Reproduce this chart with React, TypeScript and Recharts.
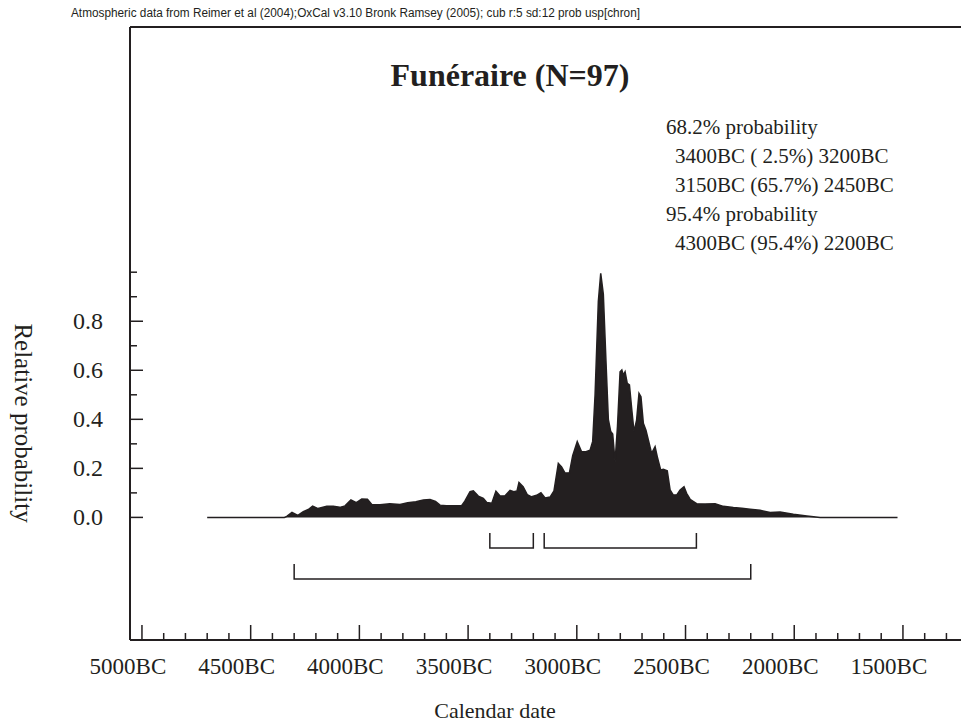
import React from 'react';
import { ComposedChart, Area, Line, XAxis, YAxis, ReferenceLine } from 'recharts';

// calendar years BC and relative probability
const years = [
  4700, 4345, 4334, 4310, 4283, 4258, 4235, 4215, 4190, 4150, 4120, 4090, 4066, 4039, 4014,
  3989, 3963, 3943, 3905, 3860, 3813, 3778, 3740, 3706, 3675, 3650, 3629, 3600, 3530, 3515,
  3491, 3476, 3453, 3430, 3414, 3391, 3372, 3353, 3330, 3307, 3290, 3275, 3266, 3247, 3228,
  3208, 3185, 3165, 3146, 3123, 3105, 3085, 3070, 3054, 3034, 3019, 2998, 2978, 2958, 2939,
  2927, 2916, 2901, 2890, 2878, 2866, 2855, 2844, 2835, 2824, 2813, 2801, 2793, 2786, 2778,
  2768, 2758, 2747, 2737, 2725, 2714, 2705, 2694, 2682, 2671, 2656, 2640, 2630, 2614, 2602,
  2584, 2571, 2556, 2540, 2525, 2507, 2495, 2479, 2449, 2410, 2364, 2326, 2280, 2241, 2203,
  2157, 2111, 2065, 2004, 1942, 1881, 1525,
];
const probs = [
  0, 0, 0.004, 0.02, 0.008, 0.023, 0.032, 0.046, 0.036, 0.045, 0.045, 0.041, 0.047, 0.071, 0.06,
  0.075, 0.074, 0.053, 0.052, 0.056, 0.053, 0.06, 0.064, 0.071, 0.073, 0.065, 0.05, 0.048, 0.048, 0.066,
  0.105, 0.108, 0.087, 0.078, 0.061, 0.058, 0.107, 0.087, 0.088, 0.11, 0.105, 0.108, 0.142, 0.125, 0.093,
  0.084, 0.09, 0.101, 0.079, 0.083, 0.108, 0.22, 0.206, 0.181, 0.182, 0.252, 0.309, 0.268, 0.268, 0.274,
  0.31, 0.5, 0.88, 0.995, 0.91, 0.64, 0.4, 0.35, 0.34, 0.227, 0.37, 0.594, 0.601, 0.58, 0.594,
  0.547, 0.54, 0.438, 0.35, 0.397, 0.506, 0.492, 0.384, 0.356, 0.316, 0.261, 0.288, 0.248, 0.193, 0.196,
  0.19, 0.112, 0.091, 0.092, 0.112, 0.125, 0.098, 0.074, 0.056, 0.055, 0.056, 0.045, 0.04, 0.037, 0.033,
  0.029, 0.02, 0.022, 0.013, 0.006, 0, 0,
];

// highest posterior density ranges
const range68 = [[3400, 3200], [3150, 2450]];
const range95 = [[4300, 2200]];

const xTicks = [
  5000, 4900, 4800, 4700, 4600, 4500, 4400, 4300, 4200, 4100, 4000, 3900, 3800, 3700, 3600,
  3500, 3400, 3300, 3200, 3100, 3000, 2900, 2800, 2700, 2600, 2500, 2400, 2300, 2200, 2100,
  2000, 1900, 1800, 1700, 1600, 1500, 1400, 1300,
];
const yTicks = [0, 0.1, 0.2, 0.3, 0.4, 0.5, 0.6, 0.7, 0.8, 0.9, 1.0];
const yLabelled = [0, 0.2, 0.4, 0.6, 0.8];

const summary = [
  { text: '68.2% probability', indent: false },
  { text: '3400BC ( 2.5%) 3200BC', indent: true },
  { text: '3150BC (65.7%) 2450BC', indent: true },
  { text: '95.4% probability', indent: false },
  { text: '4300BC (95.4%) 2200BC', indent: true },
];

const INK = '#231f20';
const SERIF = '"Liberation Serif", "Times New Roman", serif';

const areaData = years.map((year, i) => ({ year, p: probs[i] }));

const bracket = (r: number[], top: number, bottom: number) => [
  { year: r[0], p: top },
  { year: r[0], p: bottom },
  { year: r[1], p: bottom },
  { year: r[1], p: top },
];

const XTick = (props: any) => {
  const { x, y, payload } = props;
  const major = payload.value % 500 === 0;
  return (
    <g>
      <line x1={x} y1={y} x2={x} y2={y - (major ? 15 : 7)} stroke={INK} strokeWidth={1.5} />
      {major && (
        <text x={x - 14} y={y + 34} textAnchor="middle" fontFamily={SERIF} fontSize={23} fill={INK}>
          {payload.value}BC
        </text>
      )}
    </g>
  );
};

const YTick = (props: any) => {
  const { x, y, payload } = props;
  const v = payload.value;
  const major = yLabelled.some((t) => Math.abs(t - v) < 1e-6);
  return (
    <g>
      <line x1={x} y1={y} x2={x + (major ? 13 : 7)} y2={y} stroke={INK} strokeWidth={1.5} />
      {major && (
        <text x={x - 27} y={y + 8} textAnchor="end" fontFamily={SERIF} fontSize={24} fill={INK}>
          {v.toFixed(1)}
        </text>
      )}
    </g>
  );
};

export default function App() {
  return (
    <div style={{ position: 'absolute', left: 0, top: 0, width: 961, height: 728, background: '#fff' }}>
      <ComposedChart width={961} height={728} margin={{ top: 27, right: 0, bottom: 0, left: 0 }}>
        <XAxis
          dataKey="year"
          type="number"
          domain={[1233, 5055]}
          reversed
          allowDataOverflow
          ticks={xTicks}
          interval={0}
          tick={<XTick />}
          tickLine={false}
          tickSize={0}
          tickMargin={0}
          height={88}
          axisLine={{ stroke: INK, strokeWidth: 2 }}
        />
        <YAxis
          type="number"
          domain={[-0.5, 2]}
          allowDataOverflow
          ticks={yTicks}
          interval={0}
          tick={<YTick />}
          tickLine={false}
          tickSize={0}
          tickMargin={0}
          width={130}
          axisLine={{ stroke: INK, strokeWidth: 2 }}
        />
        <ReferenceLine y={2} stroke={INK} strokeWidth={2} />
        <Area
          data={areaData}
          dataKey="p"
          type="linear"
          baseValue={0}
          stroke={INK}
          strokeWidth={1.5}
          fill={INK}
          fillOpacity={1}
          dot={false}
          activeDot={false}
          isAnimationActive={false}
        />
        {range68.map((r, i) => (
          <Line
            key={'s' + i}
            data={bracket(r, -0.064, -0.125)}
            dataKey="p"
            type="linear"
            stroke={INK}
            strokeWidth={1.5}
            dot={false}
            activeDot={false}
            isAnimationActive={false}
          />
        ))}
        {range95.map((r, i) => (
          <Line
            key={'d' + i}
            data={bracket(r, -0.19, -0.251)}
            dataKey="p"
            type="linear"
            stroke={INK}
            strokeWidth={1.5}
            dot={false}
            activeDot={false}
            isAnimationActive={false}
          />
        ))}
      </ComposedChart>
      <svg width={961} height={728} style={{ position: 'absolute', left: 0, top: 0, pointerEvents: 'none' }}>
        <text x={71} y={17} fontFamily='"Liberation Sans", Arial, sans-serif' fontSize={12.5} fill={INK}
          textLength={569} lengthAdjust="spacingAndGlyphs">
          Atmospheric data from Reimer et al (2004);OxCal v3.10 Bronk Ramsey (2005); cub r:5 sd:12 prob usp[chron]
        </text>
        <text x={510} y={86} textAnchor="middle" fontFamily={SERIF} fontSize={32} fontWeight="bold" fill={INK}>
          Funéraire (N=97)
        </text>
        {summary.map((s, i) => (
          <text key={i} x={s.indent ? 675 : 666} y={134 + i * 29} fontFamily={SERIF} fontSize={21} fill={INK}
            style={{ whiteSpace: 'pre' }}>
            {s.text}
          </text>
        ))}
        <text x={495} y={718} textAnchor="middle" fontFamily={SERIF} fontSize={22} fill={INK}>
          Calendar date
        </text>
        <text x={0} y={0} transform="translate(15 423) rotate(90)" textAnchor="middle" fontFamily={SERIF}
          fontSize={25} fill={INK}>
          Relative probability
        </text>
      </svg>
    </div>
  );
}
